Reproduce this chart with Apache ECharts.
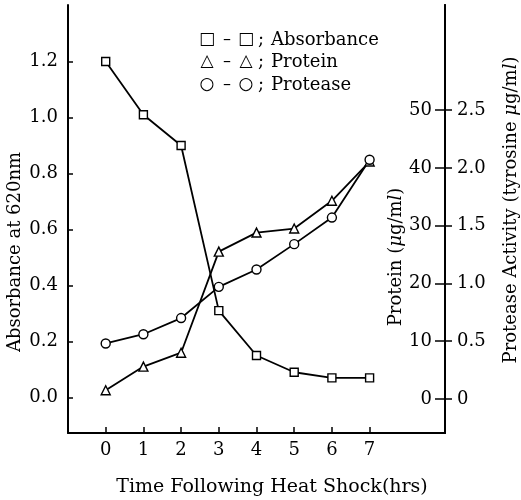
<!DOCTYPE html>
<html>
<head>
<meta charset="utf-8">
<script src="https://cdn.jsdelivr.net/npm/echarts@6/dist/echarts.min.js"></script>
<style>
html, body { margin: 0; padding: 0; background: #fff; }
#chart { width: 521px; height: 500px; }
</style>
</head>
<body>
<div id="chart"></div>
<script>
var hours = [0, 1, 2, 3, 4, 5, 6, 7];
var absorbance = [1.20, 1.01, 0.90, 0.31, 0.15, 0.09, 0.07, 0.07];
var protein = [1.5, 5.6, 8.0, 25.5, 28.8, 29.5, 34.3, 41.1];
var protease = [0.48, 0.56, 0.70, 0.97, 1.12, 1.34, 1.57, 2.07];

var absTicks = [0, 0.2, 0.4, 0.6, 0.8, 1.0, 1.2];
var proteinTicks = [0, 10, 20, 30, 40, 50];
var proteaseTicks = [0, 0.5, 1.0, 1.5, 2.0, 2.5];

var legendNames = ['Absorbance', 'Protein', 'Protease'];
var legendGlyphs = ['\u25A1', '\u25B3', '\u25CB'];

var serif = 'DejaVu Serif';

function pairs(ys) {
    var out = [];
    for (var i = 0; i < hours.length; i++) {
        out.push([hours[i], ys[i]]);
    }
    return out;
}

function lineSeries(name, ys, axis, symbol, size) {
    return {
        name: name,
        type: 'line',
        yAxisIndex: axis,
        data: pairs(ys),
        symbol: symbol,
        symbolSize: size,
        showAllSymbol: true,
        lineStyle: { color: '#000', width: 1.8 },
        itemStyle: { color: '#fff', borderColor: '#000', borderWidth: 1.4 },
        emphasis: { disabled: true },
        animation: false
    };
}

function legendRows() {
    var items = [];
    var ys = [40, 62, 85];
    var glyphFont = '17px "DejaVu Sans"';
    for (var i = 0; i < legendNames.length; i++) {
        var y = ys[i];
        items.push({ type: 'text', x: 207, y: y, style: { text: legendGlyphs[i], font: glyphFont, fill: '#000', align: 'center', verticalAlign: 'middle' } });
        items.push({ type: 'text', x: 227, y: y, style: { text: '\u2013', font: '16px "DejaVu Sans"', fill: '#000', align: 'center', verticalAlign: 'middle' } });
        items.push({ type: 'text', x: 246, y: y, style: { text: legendGlyphs[i], font: glyphFont, fill: '#000', align: 'center', verticalAlign: 'middle' } });
        items.push({ type: 'text', x: 261, y: y, style: { text: ';', font: '18px "DejaVu Serif"', fill: '#000', align: 'center', verticalAlign: 'middle' } });
        items.push({ type: 'text', x: 271, y: y, style: { text: legendNames[i], font: '18px "DejaVu Serif"', fill: '#000', align: 'left', verticalAlign: 'middle' } });
    }
    return items;
}

var italic = { i: { fontStyle: 'italic', fontFamily: serif, fontSize: 18 } };

var titles = [
    { type: 'text', x: 272, y: 487, style: { text: 'Time Following Heat Shock(hrs)', font: '19px "DejaVu Serif"', fill: '#000', align: 'center', verticalAlign: 'middle' } },
    { type: 'text', x: 15, y: 252, rotation: Math.PI / 2, style: { text: 'Absorbance at 620nm', font: '18px "DejaVu Serif"', fill: '#000', align: 'center', verticalAlign: 'middle' } },
    { type: 'text', x: 396, y: 257, rotation: Math.PI / 2, style: { text: 'Protein ({i|\u03BC}g/m{i|l})', fontFamily: serif, fontSize: 18, fill: '#000', align: 'center', verticalAlign: 'middle', rich: italic } },
    { type: 'text', x: 511, y: 210, rotation: Math.PI / 2, style: { text: 'Protease Activity (tyrosine {i|\u03BC}g/m{i|l})', fontFamily: serif, fontSize: 18, fill: '#000', align: 'center', verticalAlign: 'middle', rich: italic } }
];

var labelFont = { fontFamily: serif, fontSize: 18, color: '#000' };
var axisLineStyle = { color: '#000', width: 2 };

var myChart = echarts.init(document.getElementById('chart'), null, { renderer: 'canvas' });

var option = {
    backgroundColor: '#fff',
    animation: false,
    grid: { left: 68, right: 76, top: 5, bottom: 67, containLabel: false },
    xAxis: {
        type: 'value',
        min: -1,
        max: 9,
        splitLine: { show: false },
        axisLine: { show: true, onZero: false, lineStyle: axisLineStyle },
        axisTick: { show: true, inside: true, length: 6, customValues: hours, lineStyle: { color: '#000', width: 1.5 } },
        axisLabel: Object.assign({ customValues: hours, margin: 8 }, labelFont)
    },
    yAxis: [
        {
            type: 'value',
            position: 'left',
            min: -0.127,
            max: 1.402,
            splitLine: { show: false },
            axisLine: { show: true, onZero: false, lineStyle: axisLineStyle },
            axisTick: { show: true, inside: true, length: 5, customValues: absTicks, lineStyle: { color: '#000', width: 1.5 } },
            axisLabel: Object.assign({
                customValues: absTicks,
                margin: 10,
                formatter: function (v) { return v.toFixed(1); }
            }, labelFont)
        },
        {
            type: 'value',
            position: 'right',
            min: -5.9,
            max: 68.2,
            splitLine: { show: false },
            axisLine: { show: true, onZero: false, lineStyle: axisLineStyle },
            axisTick: { show: true, inside: true, length: 10, customValues: proteinTicks, lineStyle: { color: '#000', width: 1.5 } },
            axisLabel: Object.assign({
                inside: true,
                customValues: proteinTicks,
                margin: 13
            }, labelFont)
        },
        {
            type: 'value',
            position: 'right',
            min: -0.295,
            max: 3.41,
            splitLine: { show: false },
            axisLine: { show: true, onZero: false, lineStyle: axisLineStyle },
            axisTick: { show: true, inside: false, length: 7, customValues: proteaseTicks, lineStyle: { color: '#000', width: 1.5 } },
            axisLabel: Object.assign({
                customValues: proteaseTicks,
                margin: 12,
                formatter: function (v) { return v === 0 ? '0' : v.toFixed(1); }
            }, labelFont)
        }
    ],
    series: [
        lineSeries('Absorbance', absorbance, 0, 'rect', 8),
        lineSeries('Protein', protein, 1, 'triangle', 9),
        lineSeries('Protease', protease, 2, 'circle', 9)
    ],
    graphic: titles.concat(legendRows())
};

if (option && typeof option === "object") {
    myChart.setOption(option, true);
}
</script>
</body>
</html>
